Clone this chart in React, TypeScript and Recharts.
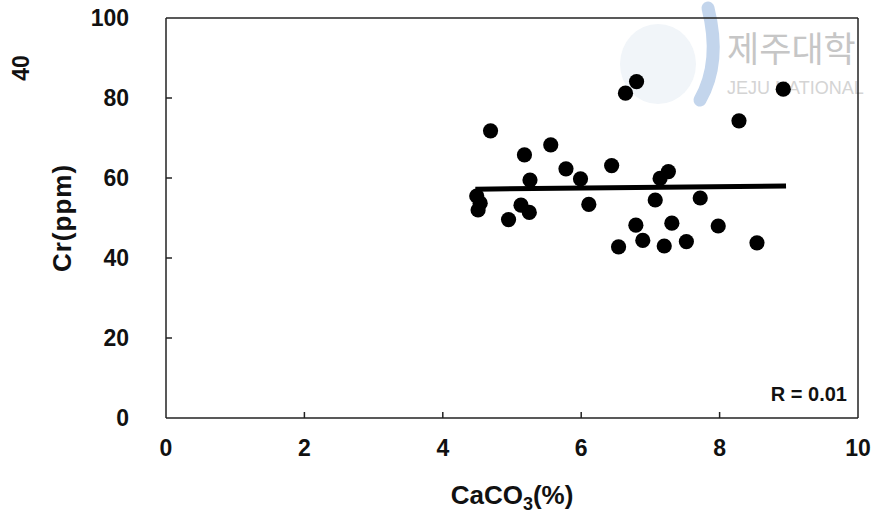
import React from 'react';
import {
    ScatterChart,
    Scatter,
    XAxis,
    YAxis,
    ReferenceLine,
    Customized
} from 'recharts';

// CaCO3 (%) vs Cr (ppm)
const caco3 = [
    6.80, 6.64, 8.92, 8.28, 4.69, 5.56, 5.18, 5.78, 6.44, 7.26,
    7.14, 5.99, 5.26, 4.49, 4.54, 4.51, 7.07, 7.72, 6.11, 5.13,
    5.25, 4.95, 6.79, 7.31, 7.98, 6.89, 6.54, 7.20, 7.52, 8.54
];
const cr = [
    84.1, 81.2, 82.2, 74.3, 71.8, 68.3, 65.8, 62.3, 63.1, 61.6,
    59.9, 59.8, 59.5, 55.5, 53.7, 52.0, 54.5, 55.0, 53.4, 53.2,
    51.4, 49.6, 48.2, 48.7, 48.0, 44.4, 42.8, 43.0, 44.1, 43.8
];

// fitted line (R = 0.01)
const fitX = [4.47, 8.96];
const fitY = [57.2, 58.0];

const xTicks = [0, 2, 4, 6, 8, 10];
const yTicks = [0, 20, 40, 60, 80, 100];

const data = caco3.map((x, i) => ({ x, y: cr[i] }));
const fitSegment = fitX.map((x, i) => ({ x, y: fitY[i] }));

const FONT = '"Liberation Sans", Arial, sans-serif';
const INK = '#111';

const Dot = (props: any) => <circle cx={props.cx} cy={props.cy} r={7.6} fill="#000" />;

const XTick = (props: any) => {
    const { x, y, payload } = props;
    const edge = payload.value === 0 || payload.value === 10;
    return (
        <g>
            {!edge && <line x1={x} x2={x} y1={y} y2={y - 6} stroke="#222" strokeWidth={1.5} />}
            <text x={x} y={y + 38} textAnchor="middle" fontFamily={FONT} fontWeight="bold" fontSize={23} fill={INK}>
                {payload.value}
            </text>
        </g>
    );
};

const YTick = (props: any) => {
    const { x, y, payload } = props;
    const edge = payload.value === 0 || payload.value === 100;
    return (
        <g>
            {!edge && <line x1={x} x2={x + 6} y1={y} y2={y} stroke="#222" strokeWidth={1.5} />}
            <text x={x - 37} y={y + 8} textAnchor="end" fontFamily={FONT} fontWeight="bold" fontSize={23} fill={INK}>
                {payload.value}
            </text>
        </g>
    );
};

const XTitle = (props: any) => {
    const vb = props.viewBox;
    const cx = vb.x + vb.width / 2;
    return (
        <text x={cx} y={vb.y + 86} textAnchor="middle" fontFamily={FONT} fontWeight="bold" fontSize={26} fill={INK}>
            CaCO<tspan fontSize={18} dy={6}>3</tspan><tspan dy={-6}>(%)</tspan>
        </text>
    );
};

const YTitle = (props: any) => {
    const vb = props.viewBox;
    const cy = vb.y + vb.height / 2;
    const cx = 62;
    return (
        <text x={cx} y={cy} transform={`rotate(-90, ${cx}, ${cy})`} textAnchor="middle" dominantBaseline="central"
            fontFamily={FONT} fontWeight="bold" fontSize={26} letterSpacing={1} fill={INK}>
            Cr(ppm)
        </text>
    );
};

// watermark + page number from the scan
const Extras = () => (
    <g>
        <ellipse cx={658} cy={64} rx={38} ry={40} fill="#f1f5f9" />
        <path d="M708,8 C716,40 716,72 700,100" stroke="#c3d5ec" strokeWidth={13} fill="none" strokeLinecap="round" />
        <text x={727} y={62} fontFamily='"Noto Sans CJK KR", sans-serif' fontSize={35} fill="#c6c6c6">제주대학</text>
        <text x={727} y={94} fontFamily={FONT} fontSize={18} fill="#d4d4d4">JEJU NATIONAL</text>
        <text x={21} y={68} transform="rotate(-90, 21, 68)" textAnchor="middle" dominantBaseline="central"
            fontFamily={FONT} fontWeight="bold" fontSize={23} fill={INK}>40</text>
        <text x={847} y={401} textAnchor="end" fontFamily={FONT} fontWeight="bold" fontSize={20} fill={INK}>R = 0.01</text>
    </g>
);

const App = () => {
    return (
        <div style={{ position: 'absolute', left: 0, top: 0, background: '#fff' }}>
            <ScatterChart width={878} height={514} margin={{ top: 18, right: 20, bottom: 36, left: 106 }}>
                <Customized component={Extras} />
                <XAxis
                    type="number"
                    dataKey="x"
                    domain={[0, 10]}
                    ticks={xTicks}
                    height={60}
                    tickSize={0}
                    tickMargin={0}
                    tick={<XTick />}
                    axisLine={{ stroke: '#222', strokeWidth: 1.5 }}
                    label={{ content: <XTitle /> }}
                />
                <YAxis
                    type="number"
                    dataKey="y"
                    domain={[0, 100]}
                    ticks={yTicks}
                    width={60}
                    tickSize={0}
                    tickMargin={0}
                    tick={<YTick />}
                    axisLine={{ stroke: '#222', strokeWidth: 1.5 }}
                    label={{ content: <YTitle /> }}
                />
                <ReferenceLine y={100} stroke="#222" strokeWidth={1.5} />
                <ReferenceLine x={10} stroke="#222" strokeWidth={1.5} />
                <ReferenceLine segment={fitSegment} stroke="#000" strokeWidth={5} />
                <Scatter data={data} shape={<Dot />} isAnimationActive={false} />
            </ScatterChart>
        </div>
    );
};

export default App;
